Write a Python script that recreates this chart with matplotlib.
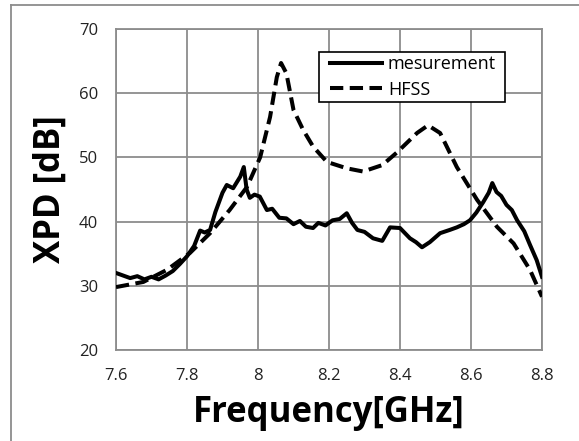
import matplotlib
matplotlib.use("Agg")
import matplotlib.pyplot as plt
from matplotlib.lines import Line2D
from matplotlib.patches import Rectangle

plt.rcParams['font.family'] = ['Open Sans', 'DejaVu Sans']

meas_f = [7.60, 7.62, 7.64, 7.66, 7.68, 7.70, 7.72, 7.74, 7.76, 7.78, 7.80, 7.82, 7.837,
          7.85, 7.865, 7.88, 7.90, 7.912, 7.93, 7.95, 7.96, 7.968, 7.977, 7.99, 8.005,
          8.025, 8.04, 8.06, 8.08, 8.10, 8.118, 8.135, 8.155, 8.17, 8.19, 8.21, 8.23,
          8.25, 8.265, 8.28, 8.30, 8.324, 8.35, 8.372, 8.40, 8.428, 8.445, 8.462, 8.484,
          8.513, 8.54, 8.56, 8.58, 8.597, 8.615, 8.634, 8.65, 8.66, 8.672, 8.685, 8.70,
          8.715, 8.73, 8.75, 8.766, 8.785, 8.80]
meas_v = [32.0, 31.6, 31.2, 31.5, 31.0, 31.4, 31.0, 31.6, 32.3, 33.4, 34.6, 36.2, 38.6,
          38.3, 38.7, 41.5, 44.5, 45.7, 45.2, 47.0, 48.5, 45.0, 43.7, 44.2, 43.9,
          41.8, 42.0, 40.6, 40.5, 39.6, 40.1, 39.2, 39.0, 39.8, 39.4, 40.2, 40.4,
          41.3, 39.8, 38.7, 38.4, 37.4, 37.0, 39.1, 39.0, 37.4, 36.8, 36.0, 36.8,
          38.2, 38.7, 39.1, 39.6, 40.2, 41.4, 43.0, 44.5, 46.0, 44.6, 44.0, 42.6,
          41.8, 40.2, 38.5, 36.4, 34.0, 31.4]

hfss_f = [7.60, 7.677, 7.744, 7.808, 7.865, 7.92, 7.969, 8.006, 8.034, 8.053, 8.065,
          8.08, 8.10, 8.127, 8.155, 8.194, 8.25, 8.296, 8.35, 8.392, 8.448, 8.479,
          8.513, 8.56, 8.617, 8.673, 8.72, 8.766, 8.80]
hfss_v = [29.8, 30.6, 32.5, 35.1, 38.2, 41.8, 45.4, 50.0, 56.3, 62.5, 64.7,
          63.1, 57.4, 54.3, 51.7, 49.3, 48.3, 47.8, 48.8, 50.8, 53.8, 55.0,
          53.8, 48.5, 43.4, 39.2, 36.6, 32.5, 28.3]

x_ticks = [7.6, 7.8, 8.0, 8.2, 8.4, 8.6, 8.8]
x_labels = ['7.6', '7.8', '8', '8.2', '8.4', '8.6', '8.8']
y_ticks = [20, 30, 40, 50, 60, 70]

fig = plt.figure(figsize=(5.79, 4.41), dpi=100)
W, H = 579, 441
ax = fig.add_axes([116 / W, 1 - 350 / H, (542 - 116) / W, (350 - 29) / H])

ax.plot(meas_f, meas_v, color='black', lw=2.9, solid_joinstyle='round', label='mesurement', zorder=3)
ax.plot(hfss_f, hfss_v, color='black', lw=2.9, dashes=(3.3, 1.6), label='HFSS', zorder=3)

ax.set_xlim(7.6, 8.8)
ax.set_ylim(20, 70)
ax.set_xticks(x_ticks)
ax.set_xticklabels(x_labels)
ax.set_yticks(y_ticks)
ax.grid(True, color='#8c8c8c', lw=1.3)
ax.set_axisbelow(True)
for s in ax.spines.values():
    s.set_color('#8c8c8c')
    s.set_linewidth(1.3)
ax.tick_params(length=0, labelsize=12, colors='#222222', pad=13)
ax.tick_params(axis='x', pad=13)

ax.set_xlabel('Frequency[GHz]', fontsize=25, fontweight='bold', labelpad=8)
ax.set_ylabel('XPD [dB]', fontsize=25, fontweight='bold', labelpad=7)

# legend frame
frame = Rectangle((319 / W, 1 - 102 / H), (505 - 319) / W, (102 - 52) / H,
                  transform=fig.transFigure, fill=True, facecolor='white',
                  edgecolor='black', lw=1.2, zorder=4, clip_on=False)
ax.add_patch(frame)

leg = ax.legend(loc='upper left', bbox_to_anchor=((330 - 116) / 426, 1 - (55 - 29) / 321),
                frameon=False, fontsize=13, handlelength=2.9, handletextpad=0.3,
                borderpad=0, labelspacing=0.42, borderaxespad=0)
leg.set_zorder(5)

# figure frame (top and left visible)
fig.add_artist(Line2D([11 / W, 11 / W], [0, 1 - 5 / H], transform=fig.transFigure, color='#8c8c8c', lw=1.3))
fig.add_artist(Line2D([11 / W, 1], [1 - 5 / H, 1 - 5 / H], transform=fig.transFigure, color='#8c8c8c', lw=1.3))

fig.savefig('out.png', dpi=100)
